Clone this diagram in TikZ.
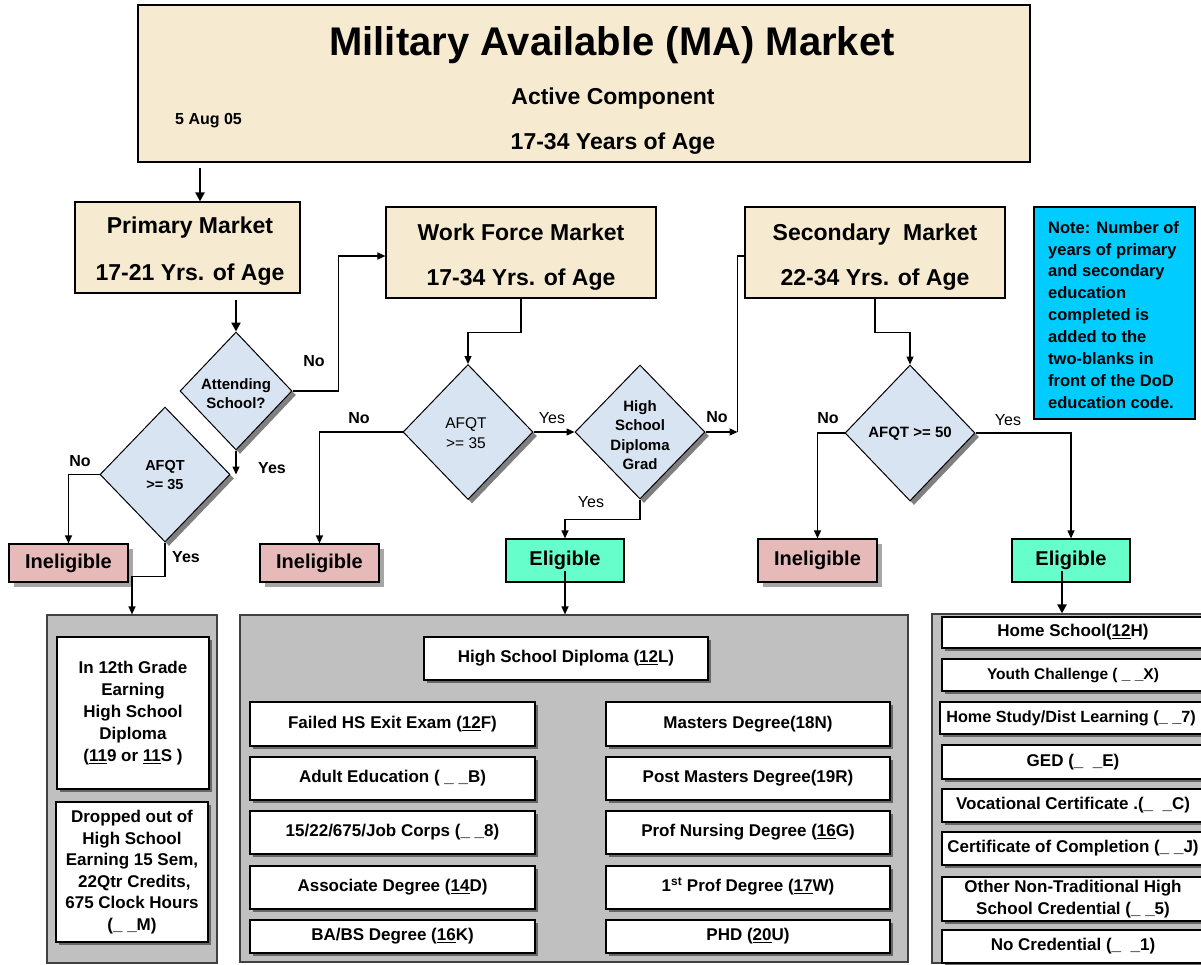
\documentclass[tikz,border=0pt]{standalone}
\usepackage{fontspec}
\setmainfont{Liberation Sans}
\usetikzlibrary{arrows.meta,shapes.geometric,shadows}
\definecolor{beige}{HTML}{F6EAD0}
\definecolor{diablue}{HTML}{D8E4F2}
\definecolor{inelpink}{HTML}{E6BAB9}
\definecolor{eligreen}{HTML}{66FFCC}
\definecolor{notecyan}{HTML}{00CCFF}
\definecolor{panelgray}{HTML}{C0C0C0}
\definecolor{shadowgray}{HTML}{808080}
\newcommand\myfs[2]{\fontsize{#1pt}{#2pt}\selectfont}
\tikzset{
  plainline/.style={line width=1.2pt},
  arr/.style={line width=1.2pt,-{Triangle[length=8pt,width=7pt]}},
  bigarr/.style={line width=2.6pt,-{Triangle[length=9pt,width=9pt]}},
  mkt/.style={draw,line width=1.2pt,fill=beige,inner sep=0pt},
  dia/.style={diamond,draw,line width=1pt,fill=diablue,inner sep=0pt,
    drop shadow={shadow xshift=4pt,shadow yshift=-4pt,fill=shadowgray,opacity=1}},
  diatext/.style={inner sep=0pt,align=center},
  inel/.style={draw,line width=1.2pt,fill=inelpink,inner sep=0pt,minimum width=119pt,
    font=\bfseries\myfs{20}{24},
    drop shadow={shadow xshift=5pt,shadow yshift=-5pt,fill=gray!70,opacity=1}},
  elig/.style={draw,line width=1.2pt,fill=eligreen,inner sep=0pt,minimum width=118pt,
    minimum height=43pt,font=\bfseries\myfs{20}{24}},
  panel/.style={draw=black!75,line width=1.2pt,fill=panelgray},
  item/.style={draw,line width=1.2pt,fill=white,inner sep=0pt,align=center,
    font=\bfseries\myfs{17}{21},
    drop shadow={shadow xshift=3pt,shadow yshift=-3pt,fill=black!60,opacity=1}},
  sitem/.style={item,text height=12.3pt,text depth=3.5pt},
  lbl/.style={font=\bfseries\myfs{16}{19},inner sep=0pt},
  lblr/.style={font=\myfs{16}{19},inner sep=0pt},
  boxtext/.style={font=\bfseries\myfs{23}{28},inner sep=0pt,anchor=base},
}
\begin{document}
\begin{tikzpicture}[x=1pt,y=-1pt]
\useasboundingbox (0,0) rectangle (1201,964);
\clip (0,0) rectangle (1201,964);

% ---------- title ----------
\node[mkt,minimum width=892pt,minimum height=157pt] (title) at (584,83.5) {};
\node[font=\bfseries\myfs{40}{48},inner sep=0pt,anchor=base] (t1) at (612,55) {Military Available (MA) Market};
\node[boxtext] (t2) at (613,104) {Active Component};
\node[boxtext] (t3) at (613,149) {17-34 Years of Age};
\node[font=\bfseries\myfs{16}{19},inner sep=0pt,anchor=base west] (t4) at (175,124) {5 Aug 05};

% ---------- markets ----------
\node[mkt,minimum width=225pt,minimum height=91pt] (pm) at (187.5,247.5) {};
\node[boxtext] (pm1) at (190,233) {Primary Market};
\node[boxtext] (pm2) at (190,280) {17-21 Yrs. of Age};

\node[mkt,minimum width=270pt,minimum height=91pt] (wf) at (521,252.5) {};
\node[boxtext] (wf1) at (521,240) {Work Force Market};
\node[boxtext] (wf2) at (521,285) {17-34 Yrs. of Age};

\node[mkt,minimum width=260pt,minimum height=91pt] (sm) at (875,252.5) {};
\node[boxtext] (sm1) at (875,240) {Secondary\ \ Market};
\node[boxtext] (sm2) at (875,285) {22-34 Yrs. of Age};

\node[draw,line width=1.6pt,fill=notecyan,minimum width=161pt,minimum height=212pt] (note) at (1114.5,313) {};
\node[inner sep=0pt,align=left,anchor=north west,font=\bfseries\myfs{16.5}{21.9}] (notet) at (1048,221)
  {Note: Number of\\years of primary\\and secondary\\education\\completed is\\added to the\\two-blanks in\\front of the DoD\\education code.};

% ---------- decisions ----------
\node[dia,minimum width=112pt,minimum height=118pt] (att) at (236,391) {};
\node[diatext,font=\bfseries\myfs{15}{19}] (attt) at (236,394) {Attending\\School?};

\node[dia,minimum width=130pt,minimum height=135pt] (af1) at (165,474.5) {};
\node[diatext,font=\bfseries\myfs{14.5}{19}] (af1t) at (165,475) {AFQT\\>= 35};

\node[dia,minimum width=130pt,minimum height=135pt] (af2) at (468,432) {};
\node[diatext,font=\myfs{15.5}{20}] (af2t) at (466,433) {AFQT\\>= 35};

\node[dia,minimum width=130pt,minimum height=134pt] (hs) at (640,432) {};
\node[diatext,font=\bfseries\myfs{15}{19.3}] (hst) at (640,435) {High\\School\\Diploma\\Grad};

\node[dia,minimum width=130pt,minimum height=136pt] (af3) at (910,433) {};
\node[diatext,font=\bfseries\myfs{15}{19}] (af3t) at (910,434) {AFQT >= 50};

% ---------- results ----------
\node[inel,minimum height=38pt] (in1) at (68.5,563) {Ineligible};
\node[inel,minimum height=38pt] (in2) at (319.5,563) {Ineligible};
\node[inel,minimum height=43pt] (in3) at (817.5,560.5) {Ineligible};
\node[elig] (el1) at (565,560.5) {Eligible};
\node[elig] (el2) at (1071,560.5) {Eligible};

% ---------- panels ----------
\node[panel,minimum width=170pt,minimum height=348pt] (pl) at (132,789) {};
\node[panel,minimum width=668pt,minimum height=347pt] (pc) at (574,788.5) {};
\node[panel,minimum width=285pt,minimum height=349pt] (pr) at (1074.5,788.5) {};

% left panel
\node[item,minimum width=152pt,minimum height=152pt] (la) at (133,713)
  {In 12th Grade\\[1pt]Earning\\[1pt]High School\\[1pt]Diploma\\[1pt](\underline{11}9 or \underline{11}S )};
\node[item,minimum width=152pt,minimum height=140pt] (lb) at (132,872)
  {Dropped out of\\[0.5pt]High School\\[0.5pt]Earning 15 Sem,\\[0.5pt]\ 22Qtr Credits,\\[0.5pt]675 Clock Hours\\[0.5pt](\_ \_M)};

% centre panel
\node[sitem,minimum width=284pt,minimum height=43pt] (c0) at (566,658.5) {High School Diploma (\underline{12}L)};
\node[sitem,minimum width=285pt,minimum height=44pt] (c1) at (392.5,724) {Failed HS Exit Exam (\underline{12}F)};
\node[sitem,minimum width=285pt,minimum height=43pt] (c2) at (392.5,778.5) {Adult Education ( \_ \_B)};
\node[sitem,minimum width=285pt,minimum height=43pt] (c3) at (392.5,832.5) {15/22/675/Job Corps (\_ \_8)};
\node[sitem,minimum width=285pt,minimum height=43pt] (c4) at (392.5,887.5) {Associate Degree (\underline{14}D)};
\node[sitem,minimum width=285pt,minimum height=33pt] (c5) at (392.5,936.5) {BA/BS Degree (\underline{16}K)};
\node[sitem,minimum width=284pt,minimum height=44pt] (d1) at (748,724) {Masters Degree(18N)};
\node[sitem,minimum width=284pt,minimum height=43pt] (d2) at (748,778.5) {Post Masters Degree(19R)};
\node[sitem,minimum width=284pt,minimum height=43pt] (d3) at (748,832.5) {Prof Nursing Degree (\underline{16}G)};
\node[sitem,minimum width=284pt,minimum height=43pt] (d4) at (748,887.5) {1\textsuperscript{st} Prof Degree (\underline{17}W)};
\node[sitem,minimum width=284pt,minimum height=33pt] (d5) at (748,936.5) {PHD (\underline{20}U)};

% right panel
\node[sitem,minimum width=262pt,minimum height=31pt] (r1) at (1073,632.5) {Home School(\underline{12}H)};
\node[sitem,minimum width=262pt,minimum height=32pt,font=\bfseries\myfs{15.5}{19}] (r2) at (1073,675) {Youth Challenge ( \_ \_X)};
\node[sitem,minimum width=262pt,minimum height=32pt,font=\bfseries\myfs{16.2}{19}] (r3) at (1071,718) {Home Study/Dist Learning (\_ \_7)};
\node[sitem,minimum width=262pt,minimum height=34pt] (r4) at (1073,762) {GED (\_ \ \_E)};
\node[sitem,minimum width=262pt,minimum height=33pt] (r5) at (1073,805.5) {Vocational Certificate .(\_ \ \_C)};
\node[sitem,minimum width=262pt,minimum height=33pt] (r6) at (1073,848.5) {Certificate of Completion (\_ \_J)};
\node[item,minimum width=262pt,minimum height=44pt,font=\bfseries\myfs{17}{21.5}] (r7) at (1073,899) {Other Non-Traditional High\\School Credential (\_ \_5)};
\node[sitem,minimum width=262pt,minimum height=33pt] (r8) at (1073,946.5) {No Credential (\_ \ \_1)};

% ---------- connectors ----------
\coordinate (tarrow) at (200,168);
\draw[bigarr] (tarrow) -- (tarrow |- pm.north);
\coordinate (pmout) at (236,300);
\draw[bigarr] (pmout) -- (att.north);
\draw[arr] (att.east) -- ++(46,0) |- ([yshift=-3.5pt]wf.west);
\draw[arr] (att.south) -- (att.south |- af1.east);
\draw[arr] (af1.west) -| (in1.north);
\draw[arr] (af1.south) -- ++(0,34) -| (pl.north);
\draw[arr] (wf.south) -- ++(0,34) -| (af2.north);
\draw[arr] (af2.west) -| (in2.north);
\draw[arr] (af2.east) -- (hs.west);
\draw[arr] (hs.east) -- ++(32,0) coordinate (hsno);
\draw[plainline] (hsno) |- ([yshift=-3.5pt]sm.west);
\draw[arr] (hs.south) -- ++(0,20) -| (el1.north);
\coordinate (e1s) at ([yshift=-10pt]el1.center);
\draw[arr] (e1s) -- (e1s |- pc.north);
\draw[arr] (sm.south) -- ++(0,34) -| (af3.north);
\draw[arr] (af3.west) -| (in3.north);
\draw[arr] (af3.east) -| (el2.north);
\coordinate (e2s) at ([xshift=-9pt,yshift=-10pt]el2.center);
\draw[bigarr] (e2s) -- (e2s |- pr.north);

% ---------- labels ----------
\node[lbl] (lab1) at (314,361) {No};
\node[lbl] (lab2) at (272,468) {Yes};
\node[lbl] (lab3) at (80,461) {No};
\node[lbl] (lab4) at (186,557) {Yes};
\node[lbl] (lab5) at (359,418) {No};
\node[lblr] (lab6) at (552,418) {Yes};
\node[lbl] (lab7) at (717,417) {No};
\node[lblr] (lab8) at (591,502) {Yes};
\node[lbl] (lab9) at (828,418) {No};
\node[lblr] (lab10) at (1008,420) {Yes};
\end{tikzpicture}
\end{document}
